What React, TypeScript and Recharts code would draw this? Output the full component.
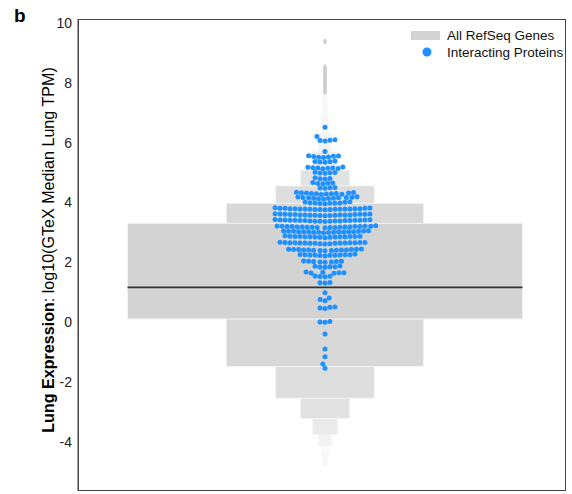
import { ReferenceArea, ReferenceLine, Scatter, ScatterChart, XAxis, YAxis } from "recharts";

const FONT = '"Liberation Sans", Arial, sans-serif';
const BLUE = "#1E90FF";

// letter-value boxes of all RefSeq genes, innermost level first
const LV_LOW = [0.1, -1.49, -2.55, -3.23, -3.76, -4.14, -4.47, -4.78];
const LV_HIGH = [3.3, 3.97, 4.55, 5.08, 5.69, 6.3, 6.9, 7.5];
const MEDIAN = 1.16;
const OUTLIERS = [9.38, 8.52, 8.44, 8.36, 8.27, 8.18, 8.1, 8.02, 7.93, 7.84, 7.76, 7.68];

const Y_TICKS = [-4, -2, 0, 2, 4, 6, 8, 10];
const Y_DOMAIN: [number, number] = [-5.65, 10.13];

// log10 lung TPM of interacting proteins
const PROTEINS = [
  6.51, 6.2, 6.09, 6.07, 6.05, 6.08, 5.7,
  5.55, 5.53, 5.51, 5.52, 5.54, 5.5, 5.56,
  5.37, 5.35, 5.36, 5.38, 5.34,
  5.17, 5.15, 5.16, 5.14, 5.13, 5.15, 5.18, 5.12,
  5.0, 4.99, 4.98, 5.01, 4.97,
  4.82, 4.79, 4.8, 4.78,
  4.66, 4.63, 4.64, 4.62, 4.65,
  4.49, 4.47, 4.48, 4.5,
  4.33, 4.31, 4.3, 4.29, 4.32, 4.28, 4.31, 4.27, 4.3, 4.34, 4.26, 4.29,
  4.17, 4.15, 4.14, 4.16, 4.13, 4.18, 4.12, 4.15, 4.16, 4.11, 4.14, 4.19,
  3.99, 3.97, 4.0, 3.96, 3.98, 4.01, 3.95, 3.98, 3.97, 4.02,
  3.8, 3.78, 3.77, 3.79, 3.76, 3.81, 3.78, 3.75, 3.79, 3.8, 3.77, 3.78, 3.76, 3.79, 3.82, 3.77, 3.78, 3.8, 3.76, 3.79,
  3.6, 3.59, 3.57, 3.58, 3.61, 3.56, 3.58, 3.6, 3.57, 3.59, 3.62, 3.58, 3.56, 3.6, 3.57, 3.59, 3.58, 3.61, 3.55, 3.58,
  3.41, 3.39, 3.38, 3.4, 3.37, 3.42, 3.39, 3.36, 3.4, 3.41, 3.38, 3.39, 3.37, 3.4, 3.43, 3.38, 3.39, 3.41, 3.37, 3.4,
  3.2, 3.18, 3.17, 3.19, 3.16, 3.21, 3.18, 3.15, 3.19, 3.2, 3.17, 3.18, 3.16, 3.19, 3.22, 3.17, 3.18, 3.2, 3.16, 3.19,
  3.03, 3.01, 3.0, 3.02, 3.04, 2.99, 3.02, 3.03, 3.0, 3.01, 3.05, 3.02, 2.98, 3.03, 3.01, 3.02, 3.0, 3.04,
  2.86, 2.84, 2.85, 2.87, 2.83, 2.86, 2.85, 2.88, 2.82, 2.85, 2.86, 2.84, 2.87, 2.83, 2.85, 2.86,
  2.65, 2.63, 2.64, 2.66, 2.62, 2.65, 2.64, 2.67, 2.61, 2.64, 2.65, 2.63, 2.66, 2.62, 2.64, 2.65, 2.63, 2.66,
  2.42, 2.4, 2.41, 2.43, 2.39, 2.42, 2.41, 2.44, 2.38, 2.41, 2.42, 2.4, 2.43, 2.39, 2.41,
  2.25, 2.23, 2.24, 2.26, 2.22, 2.25, 2.24, 2.27, 2.21, 2.24, 2.25, 2.23,
  2.03, 2.01, 2.02, 2.04, 2.0, 2.03, 2.02, 2.01,
  1.86, 1.84, 1.85, 1.87, 1.83, 1.85,
  1.66, 1.64, 1.65, 1.67, 1.63, 1.65,
  1.53, 1.51, 1.52, 1.54,
  1.32, 1.3, 1.31,
  0.98, 0.8, 0.75, 0.71, 0.5, 0.47, 0.49, 0.45, 0.02, -0.01, 0.0,
  -0.4, -0.9, -1.16, -1.4, -1.55,
];

const W = 572;
const H = 494;
const MARGIN = { top: 19, right: 6, bottom: 3, left: 0 };
const Y_AXIS_W = 78;
// x in pixel units, box centre at 0
const X_DOMAIN: [number, number] = [-247, 241];
const BOX_HALF = 197.5;
const DOT_R = 2.5;
const FRAME = "#444";
const PLOT_W = W - MARGIN.left - MARGIN.right - Y_AXIS_W;
const PLOT_H = H - MARGIN.top - MARGIN.bottom;

const PX_PER_UNIT = PLOT_H / (Y_DOMAIN[1] - Y_DOMAIN[0]);

// simple beeswarm: place each point as close to the centre as it fits
function swarm(values: number[], d: number) {
  const sorted = [...values].sort((a, b) => a - b);
  const placed: { x: number; y: number }[] = [];
  for (const v of sorted) {
    const y = v * PX_PER_UNIT;
    const near = placed.filter((p) => Math.abs(p.y - y) < d);
    const cands = [0];
    for (const p of near) {
      const dx = Math.sqrt(d * d - (p.y - y) ** 2);
      cands.push(p.x - dx, p.x + dx);
    }
    cands.sort((a, b) => Math.abs(a) - Math.abs(b));
    const x =
      cands.find((c) => near.every((p) => (p.x - c) ** 2 + (p.y - y) ** 2 >= d * d - 1e-6)) ?? 0;
    placed.push({ x, y });
  }
  return placed.map((p) => ({ x: p.x, y: p.y / PX_PER_UNIT }));
}

const swarmData = swarm(PROTEINS, DOT_R * 2);
const outlierData = OUTLIERS.map((v) => ({ x: 0, y: v }));

function levelColor(i: number) {
  const g = Math.min(249, 211 + i * 5 + (i > 3 ? (i - 3) * 3 : 0));
  return `rgb(${g},${g},${g})`;
}

const Dot = (p: any) => <circle cx={p.cx} cy={p.cy} r={DOT_R} fill={BLUE} />;
const Diamond = (p: any) => (
  <path
    d={`M${p.cx},${p.cy - 3.5} L${p.cx + 2.2},${p.cy} L${p.cx},${p.cy + 3.5} L${p.cx - 2.2},${p.cy} Z`}
    fill="#cdcdcd"
  />
);

export default function App() {
  const levels = LV_LOW.map((lo, i) => ({ lo, hi: LV_HIGH[i], half: BOX_HALF * Math.pow(0.5, i), i }));
  return (
    <div style={{ position: "absolute", left: 0, top: 0, width: W, height: H, fontFamily: FONT }}>
      <ScatterChart width={W} height={H} margin={MARGIN}>
        <XAxis type="number" dataKey="x" domain={X_DOMAIN} hide />
        <YAxis
          type="number"
          dataKey="y"
          domain={Y_DOMAIN}
          ticks={Y_TICKS}
          width={Y_AXIS_W}
          tickLine={false}
          tickSize={0}
          tickMargin={6}
          axisLine={{ stroke: FRAME }}
          tick={{ fill: "#222", fontSize: 14, fontFamily: FONT }}
          allowDataOverflow
        />
        {[...levels].reverse().map((l) => (
          <ReferenceArea
            key={l.i}
            x1={-l.half}
            x2={l.half}
            y1={l.lo}
            y2={l.hi}
            fill={levelColor(l.i)}
            fillOpacity={1}
            stroke="#f4f4f4"
            strokeWidth={1}
          />
        ))}
        <ReferenceLine
          segment={[
            { x: -BOX_HALF, y: MEDIAN },
            { x: BOX_HALF, y: MEDIAN },
          ]}
          stroke="#333"
          strokeWidth={1.8}
        />
        <Scatter data={outlierData} shape={Diamond} isAnimationActive={false} />
        <Scatter data={swarmData} shape={Dot} isAnimationActive={false} />
      </ScatterChart>
      <svg width={W} height={H} style={{ position: "absolute", left: 0, top: 0, pointerEvents: "none" }}>
        {/* axes frame */}
        <rect
          x={MARGIN.left + Y_AXIS_W + 0.5}
          y={MARGIN.top + 0.5}
          width={PLOT_W - 1}
          height={PLOT_H - 1}
          fill="none"
          stroke={FRAME}
          strokeWidth={1}
        />
        <text x={14} y={22} fontSize={19} fontWeight="bold" fill="#000" fontFamily={FONT}>
          b
        </text>
        <text
          transform="rotate(-90 48 250)"
          x={48}
          y={250}
          textAnchor="middle"
          dominantBaseline="central"
          fontSize={16.1}
          fill="#000"
          fontFamily={FONT}
        >
          <tspan fontWeight="bold">Lung Expression</tspan>
          <tspan>: log10(GTeX Median Lung TPM)</tspan>
        </text>
        <rect x={411} y={31} width={29} height={9} fill="#d3d3d3" />
        <text x={447} y={40} fontSize={13.5} fill="#111" fontFamily={FONT}>
          All RefSeq Genes
        </text>
        <circle cx={427} cy={52} r={4.5} fill={BLUE} />
        <text x={447} y={57} fontSize={13.5} fill="#111" fontFamily={FONT}>
          Interacting Proteins
        </text>
      </svg>
    </div>
  );
}
